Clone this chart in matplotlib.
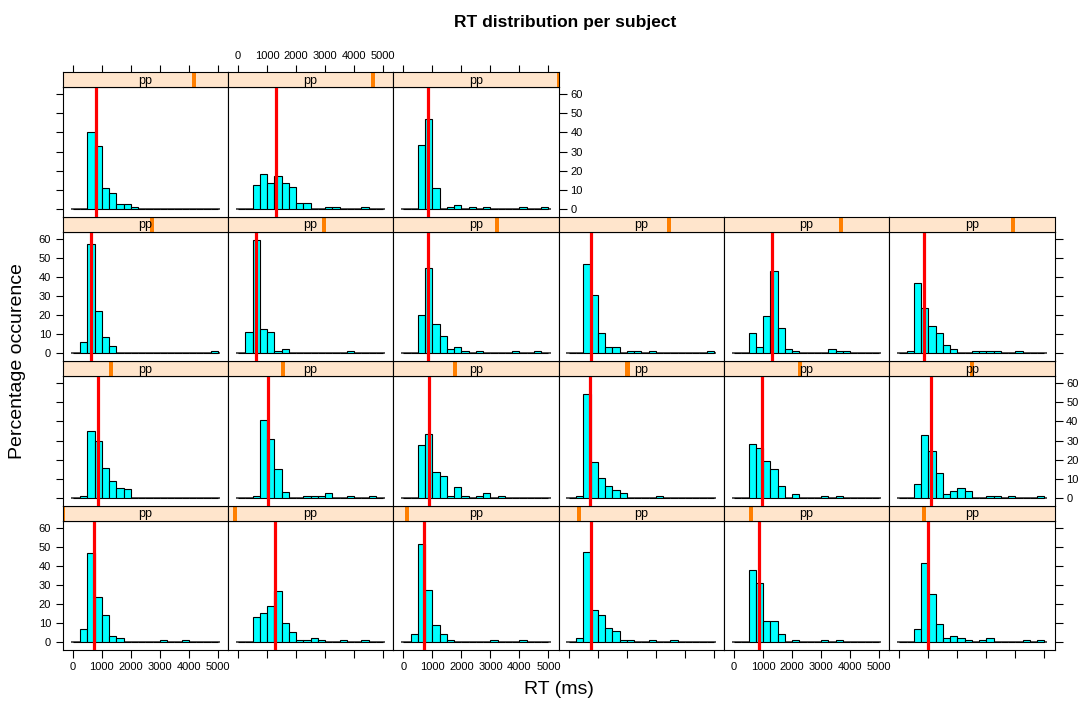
#!/usr/bin/env python3
"""Lattice-style RT histograms, one panel per subject."""

import matplotlib

matplotlib.use("Agg")
import matplotlib.pyplot as plt
import numpy as np

plt.rcParams["font.family"] = ["Liberation Sans", "DejaVu Sans"]

BIN_EDGES = np.arange(0, 5001, 250)
X_TICKS = [0, 1000, 2000, 3000, 4000, 5000]
Y_TICKS = [0, 10, 20, 30, 40, 50, 60]

# subject ids, in lattice panel order (bottom-left first, then right, then up)
PP = [1, 2, 3, 4, 5, 6, 8, 9, 10, 11, 12, 13, 14, 15, 16, 17, 18, 19, 20, 22, 25]

# percentage of trials per 250 ms bin (20 bins, 0-5000 ms)
PERCENT = [
    [0, 6.9, 46.8, 23.7, 14.4, 3.3, 2.3, 0, 0, 0, 0, 0, 1.1, 0, 0, 1.1, 0, 0, 0, 0],
    [0, 0, 13.2, 15.3, 19.0, 27.1, 10.2, 5.6, 1.1, 1.1, 2.3, 1.1, 0, 0, 1.1, 0, 0, 1.1, 0, 0],
    [0, 4.4, 51.5, 27.3, 9.1, 4.6, 1.1, 0, 0, 0, 0, 0, 1.1, 0, 0, 0, 1.1, 0, 0, 0],
    [0, 2.3, 47.5, 16.7, 14.4, 7.7, 6.2, 1.1, 1.1, 0, 0, 1.1, 0, 0, 1.1, 0, 0, 0, 0, 0],
    [0, 0, 38.0, 31.1, 11.4, 11.4, 4.4, 0, 1.1, 0, 0, 0, 1.1, 0, 1.1, 0, 0, 0, 0, 0],
    [0, 0, 6.9, 41.5, 25.3, 9.7, 2.3, 3.3, 2.3, 1.1, 0, 1.1, 2.3, 0, 0, 0, 0, 1.1, 0, 1.1],
    [0, 1.1, 34.8, 29.6, 15.5, 8.6, 5.1, 4.6, 0, 0, 0, 0, 0, 0, 0, 0, 0, 0, 0, 0],
    [0, 0, 1.1, 41.0, 30.6, 15.1, 3.3, 0, 0, 1.1, 1.1, 1.1, 2.3, 0, 0, 1.1, 0, 0, 1.1, 0],
    [0, 0, 27.6, 33.4, 13.7, 11.3, 1.1, 5.6, 1.1, 0, 1.1, 2.3, 0, 1.1, 0, 0, 0, 0, 0, 0],
    [0, 1.1, 54.4, 19.0, 10.4, 6.2, 3.9, 2.6, 0, 0, 0, 0, 1.1, 0, 0, 0, 0, 0, 0, 0],
    [0, 0, 28.1, 25.9, 19.5, 15.1, 6.2, 0, 2.1, 0, 0, 0, 1.1, 0, 1.1, 0, 0, 0, 0, 0],
    [0, 0, 7.4, 32.7, 24.8, 13.2, 2.1, 3.7, 5.1, 3.7, 0, 0, 1.1, 1.1, 0, 1.1, 0, 0, 0, 1.1],
    [0, 6.2, 57.3, 22.0, 8.6, 3.9, 0, 0, 0, 0, 0, 0, 0, 0, 0, 0, 0, 0, 0, 1.1],
    [0, 11.4, 59.5, 12.7, 11.4, 1.1, 2.3, 0, 0, 0, 0, 0, 0, 0, 0, 1.1, 0, 0, 0, 0],
    [0, 0, 20.0, 44.5, 15.5, 9.0, 2.3, 3.3, 1.1, 0, 1.1, 0, 0, 0, 0, 1.1, 0, 0, 1.1, 0],
    [0, 0, 46.8, 30.6, 10.7, 3.3, 3.3, 0, 1.1, 1.1, 0, 1.1, 0, 0, 0, 0, 0, 0, 0, 1.1],
    [0, 0, 10.7, 3.3, 19.5, 43.3, 13.2, 2.3, 1.1, 0, 0, 0, 0, 2.3, 1.1, 1.1, 0, 0, 0, 0],
    [0, 1.1, 37.1, 23.7, 14.4, 10.7, 4.6, 2.3, 0, 0, 1.1, 1.1, 1.1, 1.1, 0, 0, 1.1, 0, 0, 0],
    [0, 0, 40.5, 32.9, 10.9, 8.4, 2.6, 2.3, 1.2, 0, 0, 0, 0, 0, 0, 0, 0, 0, 0, 0],
    [0, 0, 12.5, 18.3, 13.7, 17.2, 13.7, 11.4, 3.2, 3.2, 0, 0, 1.1, 1.1, 0, 0, 0, 1.1, 0, 0],
    [0, 0, 33.2, 47.3, 10.7, 0, 1.1, 2.1, 0, 1.1, 0, 1.1, 0, 0, 0, 0, 1.1, 0, 0, 1.1],
]

# per-subject central RT (red line), ms
CENTRE_RT = [734, 1284, 700, 751, 849, 1004, 872, 1021, 872, 716, 952, 1089,
             642, 631, 860, 751, 1296, 843, 803, 1319, 837]

W, H = 1078, 704
LEFT, PW = 62.7, 165.3
TOP, STRIP, PH, ROWH = 72.3, 15.0, 129.5, 144.5
NCOL, NROW = 6, 4
XLIM = (-350, 5350)


def rect(x, y, w, h):
    return [x / W, 1 - (y + h) / H, w / W, h / H]


def main() -> None:
    fig = plt.figure(figsize=(W / 100, H / 100), dpi=100)
    top_max = max(max(v) for v in PERCENT)
    ylim = (-0.07 * top_max, 1.07 * top_max)
    pmin, pmax = min(PP), max(PP)
    n = len(PP)
    tick_kw = dict(direction="out", length=5.4, width=0.8, labelsize=8, pad=3)

    for i, (pp, vals, rt) in enumerate(zip(PP, PERCENT, CENTRE_RT)):
        r, c = divmod(i, NCOL)
        d = NROW - 1 - r
        ytop = TOP + d * ROWH
        x0 = LEFT + c * PW
        last_in_row = (c == NCOL - 1) or (i == n - 1)

        ax = fig.add_axes(rect(x0, ytop + STRIP, PW, PH))
        ax.hlines(0, -80, 5080, color="#555555", lw=1.4, zorder=1)
        ax.bar(BIN_EDGES[:-1], vals, width=250, align="edge", color="#00ffff",
               edgecolor="black", linewidth=0.8, zorder=2)
        ax.axvline(rt, color="red", lw=2.3, zorder=3)
        ax.set_xlim(XLIM)
        ax.set_ylim(ylim)
        ax.set_xticks(X_TICKS)
        ax.set_yticks(Y_TICKS)
        ax.tick_params(**tick_kw)
        ax.tick_params(top=False, labeltop=False,
                       bottom=(r == 0), labelbottom=(r == 0 and c % 2 == 0),
                       left=(c == 0), labelleft=(c == 0 and d % 2 == 1),
                       right=last_in_row, labelright=(last_in_row and d % 2 == 0))
        for s in ax.spines.values():
            s.set_linewidth(0.8)

        sx = fig.add_axes(rect(x0, ytop, PW, STRIP))
        sx.set_facecolor("#ffe5cc")
        sx.set_xlim(XLIM)
        sx.set_ylim(0, 1)
        frac = (pp - pmin) / (pmax - pmin)
        pos = XLIM[0] + frac * (XLIM[1] - XLIM[0])
        sx.axvspan(pos - 70, pos + 70, color="#ff7f00", lw=0)
        sx.text(0.5, 0.45, "pp", transform=sx.transAxes, ha="center",
                va="center", fontsize=9)
        sx.set_yticks([])
        sx.set_xticks(X_TICKS)
        sx.tick_params(**tick_kw)
        sx.tick_params(bottom=False, labelbottom=False,
                       top=(d == 0), labeltop=(d == 0 and c == 1))
        for s in sx.spines.values():
            s.set_linewidth(0.8)

    fig.text(565 / W, 1 - 22 / H, "RT distribution per subject",
             ha="center", va="center", fontsize=12.5, fontweight="bold")
    fig.text(559 / W, 1 - 690 / H, "RT (ms)", ha="center", va="center", fontsize=14)
    fig.text(18 / W, 1 - 361 / H, "Percentage occurence", ha="center",
             va="center", rotation=90, fontsize=14)
    fig.savefig("out.png", dpi=100)
    plt.close(fig)


if __name__ == "__main__":
    main()
